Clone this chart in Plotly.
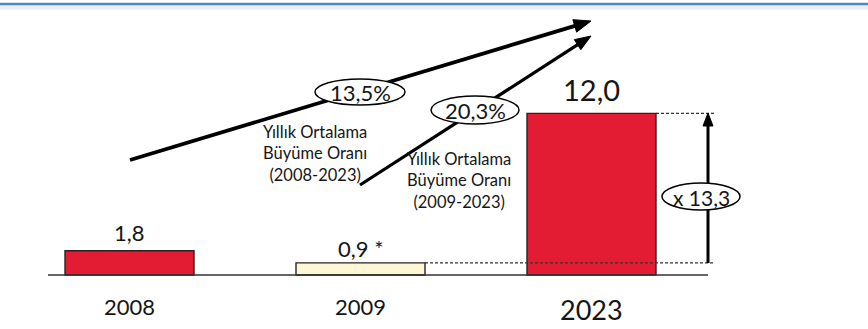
import plotly.graph_objects as go

# ---- data ----
years = ["2008", "2009", "2023"]
values = [1.8, 0.9, 12.0]
value_labels = ["1,8", "0,9 *", "12,0"]
bar_colors = ["#e31c33", "#fdf7d6", "#e31c33"]
growth_labels = ["13,5%", "20,3%"]
growth_texts = ["Yıllık Ortalama<br>Büyüme Oranı<br>(2008-2023)",
                "Yıllık Ortalama<br>Büyüme Oranı<br>(2009-2023)"]
multiple_label = "x 13,3"

W, H = 868, 329
FONT = "Lato"
TXT = "#151515"

# pixel -> data helpers for decorations
X0, XS = 129.5, 231.0
BASE, YS = 275.0, 13.47
def X(px): return (px - X0) / XS
def Y(py): return (BASE - py) / YS

BW = 129 / XS

fig = go.Figure()
fig.add_trace(go.Bar(
    x=[0, 1, 2], y=values, width=BW,
    marker=dict(color=bar_colors, line=dict(color="#2a2222", width=1.4)),
    hoverinfo="skip", showlegend=False))

shapes = []
annotations = []

# top blue rule
shapes.append(dict(type="line", xref="paper", yref="paper", x0=0, x1=1,
                   y0=1 - 7.5 / H, y1=1 - 7.5 / H, line=dict(color="#e9eef5", width=4)))
shapes.append(dict(type="line", xref="paper", yref="paper", x0=0, x1=1,
                   y0=1 - 4 / H, y1=1 - 4 / H, line=dict(color="#4d86c8", width=2.5)))

# baseline
shapes.append(dict(type="line", x0=X(48), x1=X(708), y0=0, y1=0,
                   line=dict(color="#333333", width=1.5)))

# dashed reference lines
shapes.append(dict(type="line", x0=2 + BW / 2, x1=X(714), y0=values[2], y1=values[2],
                   line=dict(color="#333333", width=1.3, dash="3px,2px")))
shapes.append(dict(type="line", x0=1 + BW / 2, x1=X(714), y0=values[1], y1=values[1],
                   line=dict(color="#333333", width=1.3, dash="3px,2px")))

def arrow(tail, tip, width, hl, hw):
    (tx, ty), (hx, hy) = tail, tip
    dx, dy = hx - tx, hy - ty
    n = (dx * dx + dy * dy) ** 0.5
    ux, uy = dx / n, dy / n
    bx, by = hx - hl * ux, hy - hl * uy
    px_, py_ = -uy, ux
    shapes.append(dict(type="line", x0=X(tx), y0=Y(ty), x1=X(bx + ux * 2), y1=Y(by + uy * 2),
                       line=dict(color="black", width=width)))
    p1 = (bx + hw * px_, by + hw * py_)
    p2 = (bx - hw * px_, by - hw * py_)
    path = "M {} {} L {} {} L {} {} Z".format(X(hx), Y(hy), X(p1[0]), Y(p1[1]), X(p2[0]), Y(p2[1]))
    shapes.append(dict(type="path", path=path, fillcolor="black", line=dict(color="black", width=1)))

arrow((130, 160), (591, 21), 3.8, 17, 6.5)
arrow((360, 185), (591, 36), 3.2, 16, 6)
arrow((708, 263), (708, 113), 3.0, 13, 5)

# ellipses
def ellipse(x0, x1, y0, y1):
    shapes.append(dict(type="circle", x0=X(x0), x1=X(x1), y0=Y(y1), y1=Y(y0),
                       fillcolor="white", line=dict(color="black", width=1.5)))

ellipse(315, 405, 79, 105)
ellipse(431, 519, 96, 124)
ellipse(662, 740, 183, 210)

annotations.append(dict(x=X(360), y=Y(92.5), text=growth_labels[0], showarrow=False,
                        font=dict(family=FONT, size=22, color=TXT)))
annotations.append(dict(x=X(475), y=Y(110.5), text=growth_labels[1], showarrow=False,
                        font=dict(family=FONT, size=22, color=TXT)))
annotations.append(dict(x=X(701), y=Y(197), text=multiple_label, showarrow=False,
                        font=dict(family=FONT, size=21, color=TXT)))

annotations.append(dict(x=X(315), y=Y(153), text=growth_texts[0], showarrow=False,
                        font=dict(family=FONT, size=16.5, color=TXT)))
annotations.append(dict(x=X(459), y=Y(180), text=growth_texts[1], showarrow=False,
                        font=dict(family=FONT, size=16.5, color=TXT)))

# value labels
val_sizes = [22, 22, 29]
val_shift = [18, 14, 24]
for i, (v, lab) in enumerate(zip(values, value_labels)):
    annotations.append(dict(x=i, y=v, text=lab, showarrow=False, yanchor="middle",
                            yshift=val_shift[i],
                            font=dict(family=FONT, size=val_sizes[i], color=TXT)))

# category labels
cat_sizes = [22, 22, 27]
cat_y = [306, 306, 309.5]
for i, yr in enumerate(years):
    annotations.append(dict(x=i, y=Y(cat_y[i]), text=yr, showarrow=False, yanchor="middle",
                            font=dict(family=FONT, size=cat_sizes[i], color=TXT)))

fig.update_layout(
    width=W, height=H,
    margin=dict(l=0, r=0, t=0, b=0),
    paper_bgcolor="white", plot_bgcolor="white",
    xaxis=dict(range=[X(0), X(W)], visible=False, fixedrange=True),
    yaxis=dict(range=[Y(H), Y(0)], visible=False, fixedrange=True),
    shapes=shapes, annotations=annotations,
    showlegend=False,
)

fig.write_html("out.html", config={"displayModeBar": False})
